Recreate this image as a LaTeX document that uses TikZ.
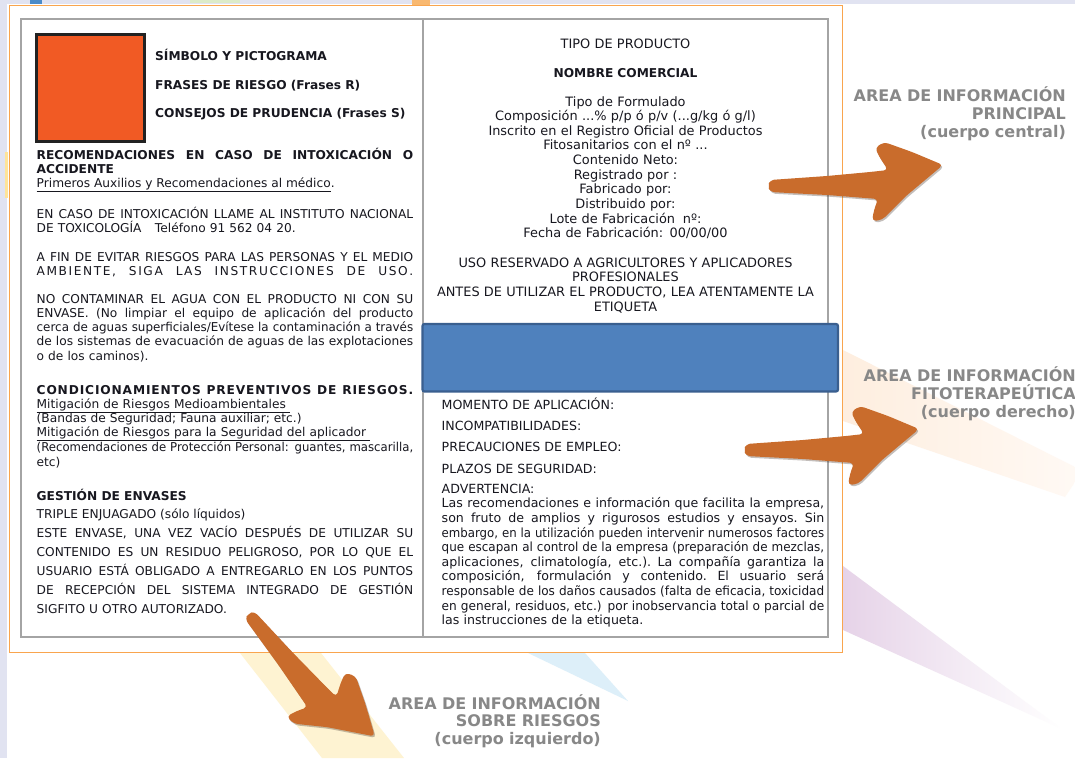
\documentclass[tikz,border=0pt]{standalone}
\usepackage{fontspec}
\setmainfont{DejaVu Sans}
\newfontfamily\labfont{DejaVu Sans}
\usepackage{graphicx}
\definecolor{txtc}{HTML}{17171F}
\definecolor{framec}{HTML}{F9A54E}
\definecolor{grayf}{HTML}{A4A4A4}
\definecolor{bluef}{HTML}{4F81BD}
\definecolor{blued}{HTML}{3A5F8F}
\definecolor{sqc}{HTML}{F15A24}
\definecolor{sqb}{HTML}{222222}
\definecolor{arrowc}{HTML}{C96C2C}
\definecolor{shadowc}{HTML}{3A2A20}
\definecolor{labc}{HTML}{888888}
\definecolor{lavc}{HTML}{E1E3F1}
\definecolor{yellowray}{HTML}{FEF3D2}
\definecolor{blueray}{HTML}{DDEFF9}
\definecolor{peach1}{HTML}{FEEEDF}
\definecolor{peach2}{HTML}{FFF9F4}
\definecolor{purp1}{HTML}{E6D3E8}
\definecolor{bitblue}{HTML}{4B8BC8}
\definecolor{bitgreen}{HTML}{DCEBC8}
\definecolor{bitorange}{HTML}{F8B870}
\definecolor{bityellow}{HTML}{FFE49A}
\newsavebox\fitbx
\newcommand\jline[1]{\leavevmode\sbox\fitbx{#1}\ifdim\wd\fitbx>\linewidth\relax\resizebox{\linewidth}{\height}{\usebox\fitbx}\else\hbox to\linewidth{\spaceskip=\fontdimen2\font plus 1fil\relax\xspaceskip=\spaceskip #1}\fi}
\def\spreadl#1{\leavevmode\hbox to\linewidth{\spreadfirst#1\relax}}
\def\spreadfirst#1{#1\spreadaux}
\def\spreadaux#1{\ifx#1\relax\else\hfill#1\expandafter\spreadaux\fi}
\newcommand\arrowbody[1]{%
  \fill[#1, rounded corners=4pt] (-172,16) -- (-115,12) -- (-72,8) -- (-54,6) -- (-62,-6) -- (-67,-16) -- (-58,-22) -- (-30,-12) -- (1,1) -- (-36,32) -- (-60,56) -- (-70,57) -- (-68,46) -- (-64,35) -- (-115,31) -- (-172,28) -- (-174,22) -- cycle;
}
\newcommand\brusharrow[2]{%
  \begin{scope}[shift={(#1)}, xshift=1.2pt, yshift=-1.6pt, rotate=#2, opacity=0.3]\arrowbody{shadowc}\end{scope}
  \begin{scope}[shift={(#1)}, rotate=#2]\arrowbody{arrowc}\end{scope}}
\begin{document}
\begin{tikzpicture}[x=1pt,y=-1pt,
  tx/.style={inner sep=0pt, text=txtc},
  lft/.style={tx, anchor=base west, font=\fontsize{12.2}{14.2}\selectfont},
  lpar/.style={lft, text width=376.5pt, align=left},
  lpark/.style={lpar, font=\fontsize{12.2}{19}\selectfont},
  lbold/.style={tx, anchor=base west, font=\fontsize{12.2}{14}\selectfont\bfseries},
  lboldpar/.style={lbold, text width=376.5pt, align=left},
  rtop/.style={tx, anchor=base, text width=404pt, align=center, font=\fontsize{12.9}{14.65}\selectfont},
  rlow/.style={tx, anchor=base west, font=\fontsize{12.6}{14.6}\selectfont},
  rpar/.style={rlow, text width=382.5pt, align=left},
  lab/.style={inner sep=0pt, text=labc, anchor=base east, text width=300pt, align=right, font=\labfont\bfseries\fontsize{16}{17.8}\selectfont}
]
\useasboundingbox (0,0) rectangle (1075,758);
\fill[white] (0,0) rectangle (1075,758);
% background strips and bits
\fill[lavc] (0,0) rectangle (1075,3.5);
\fill[lavc] (0,0) rectangle (6.5,758);
\fill[bitblue] (30,0) rectangle (42,4);
\fill[bitgreen] (190,0) rectangle (240,3.3);
\fill[bitorange] (412,0) rectangle (430,4.5);
\fill[bityellow] (5,152) rectangle (8,198);
% light rays
\fill[yellowray] (240,653) -- (321,653) -- (404,758) -- (322,758) -- cycle;
\fill[blueray] (528,653) -- (585,653) -- (628,701) -- cycle;
\shade[left color=peach1, right color=peach2] (843,350) -- (1075,467) -- (1075,482) -- (1065,497) -- (843,421) -- cycle;
\shade[left color=purp1, right color=white] (843,566) -- (1062,729) -- (843,630) -- cycle;
% frames
\draw[framec, line width=1.6pt] (9.5,5.5) rectangle (842.5,652.5);
\draw[grayf, line width=2pt] (21,18.5) rectangle (828,636.5);
\draw[grayf, line width=2pt] (423,18.5) -- (423,636.5);
\draw[blued, fill=bluef, line width=2.2pt, rounded corners=2pt] (422.5,324) rectangle (838,391.5);
\draw[sqb, fill=sqc, line width=3.4pt] (36.7,34.7) rectangle (144.3,141.3);
% left column
\node[lbold] (simb) at (155,60) {SÍMBOLO Y PICTOGRAMA};
\node[lbold] (fras) at (155,89.3) {FRASES DE RIESGO (Frases R)};
\node[lbold] (cons) at (155,117.3) {CONSEJOS DE PRUDENCIA (Frases S)};
\node[lboldpar] (recom) at (36.5,159.3) {\jline{RECOMENDACIONES EN CASO DE INTOXICACIÓN O}\\ACCIDENTE};
\node[lft] (prim) at (36.5,187.7) {\underline{Primeros Auxilios y Recomendaciones al médico}.};
\node[lpar] (llame) at (36.5,218.3) {\jline{EN CASO DE INTOXICACIÓN LLAME AL INSTITUTO NACIONAL}\\DE TOXICOLOGÍA\hspace{1.1em}Teléfono 91 562 04 20.};
\node[lpar] (fin) at (36.5,261) {\jline{A FIN DE EVITAR RIESGOS PARA LAS PERSONAS Y EL MEDIO}\\\spreadl{AMBIENTE,~~SIGA~~LAS~~INSTRUCCIONES~~DE~~USO.}};
\node[lpar] (nocont) at (36.5,303.3) {\jline{NO CONTAMINAR EL AGUA CON EL PRODUCTO NI CON SU}\\\jline{ENVASE. (No limpiar el equipo de aplicación del producto}\\\jline{cerca de aguas superficiales/Evítese la contaminación a través}\\\jline{de los sistemas de evacuación de aguas de las explotaciones}\\o de los caminos).};
\node[lpar] (cond) at (36.5,394) {{\bfseries\spreadl{CONDICIONAMIENTOS~PREVENTIVOS~DE~RIESGOS.}}\\\underline{Mitigación de Riesgos Medioambientales\ }\\(Bandas de Seguridad; Fauna auxiliar; etc.)\\\underline{Mitigación de Riesgos para la Seguridad del aplicador\ }\\\jline{(Recomendaciones de Protección Personal: guantes, mascarilla,}\\etc)};
\node[lbold] (gest) at (36.5,500) {GESTIÓN DE ENVASES};
\node[lft] (trip) at (36.5,518.3) {TRIPLE ENJUAGADO (sólo líquidos)};
\node[lpark] (este) at (36.5,537.3) {\jline{ESTE ENVASE, UNA VEZ VACÍO DESPUÉS DE UTILIZAR SU}\\\jline{CONTENIDO ES UN RESIDUO PELIGROSO, POR LO QUE EL}\\\jline{USUARIO ESTÁ OBLIGADO A ENTREGARLO EN LOS PUNTOS}\\\jline{DE RECEPCIÓN DEL SISTEMA INTEGRADO DE GESTIÓN}\\SIGFITO U OTRO AUTORIZADO.};
% right column top
\node[rtop] (tipo) at (625.5,48.3) {TIPO DE PRODUCTO};
\node[rtop, font=\fontsize{12.2}{14.65}\selectfont\bfseries] (nombre) at (625.5,77.3) {NOMBRE COMERCIAL};
\node[rtop] (form) at (625.5,106) {Tipo de Formulado\\Composición ...\% p/p ó p/v (...g/kg ó g/l)\\Inscrito en el Registro Oficial de Productos\\Fitosanitarios con el nº ...\\Contenido Neto:\\Registrado por :\\Fabricado por:\\Distribuido por:\\Lote de Fabricación\hspace{0.6em}nº:\\Fecha de Fabricación: 00/00/00};
\node[rtop] (uso) at (625.5,267.3) {USO RESERVADO A AGRICULTORES Y APLICADORES\\PROFESIONALES\\ANTES DE UTILIZAR EL PRODUCTO, LEA ATENTAMENTE LA\\ETIQUETA};
% right column lower
\node[rlow] (mom) at (441.5,409) {MOMENTO DE APLICACIÓN:};
\node[rlow] (inc) at (441.5,430) {INCOMPATIBILIDADES:};
\node[rlow] (prec) at (441.5,451.7) {PRECAUCIONES DE EMPLEO:};
\node[rlow] (plaz) at (441.5,473.3) {PLAZOS DE SEGURIDAD:};
\node[rpar] (adv) at (441.5,493.3) {ADVERTENCIA:\\\jline{Las recomendaciones e información que facilita la empresa,}\\\jline{son fruto de amplios y rigurosos estudios y ensayos. Sin}\\\jline{embargo, en la utilización pueden intervenir numerosos factores}\\\jline{que escapan al control de la empresa (preparación de mezclas,}\\\jline{aplicaciones, climatología, etc.). La compañía garantiza la}\\\jline{composición, formulación y contenido. El usuario será}\\\jline{responsable de los daños causados (falta de eficacia, toxicidad}\\\jline{en general, residuos, etc.) por inobservancia total o parcial de}\\las instrucciones de la etiqueta.};
% arrows
\brusharrow{942,164}{0}
\brusharrow{918,428}{0}
\brusharrow{375,735}{-51}
% labels
\node[lab] (lab1) at (1066,101.7) {AREA DE INFORMACIÓN\\PRINCIPAL\\(cuerpo central)};
\node[lab] (lab2) at (1076,381.7) {AREA DE INFORMACIÓN\\FITOTERAPEÚTICA\\(cuerpo derecho)};
\node[lab] (lab3) at (601,709) {AREA DE INFORMACIÓN\\SOBRE RIESGOS\\(cuerpo izquierdo)};
\end{tikzpicture}
\end{document}
